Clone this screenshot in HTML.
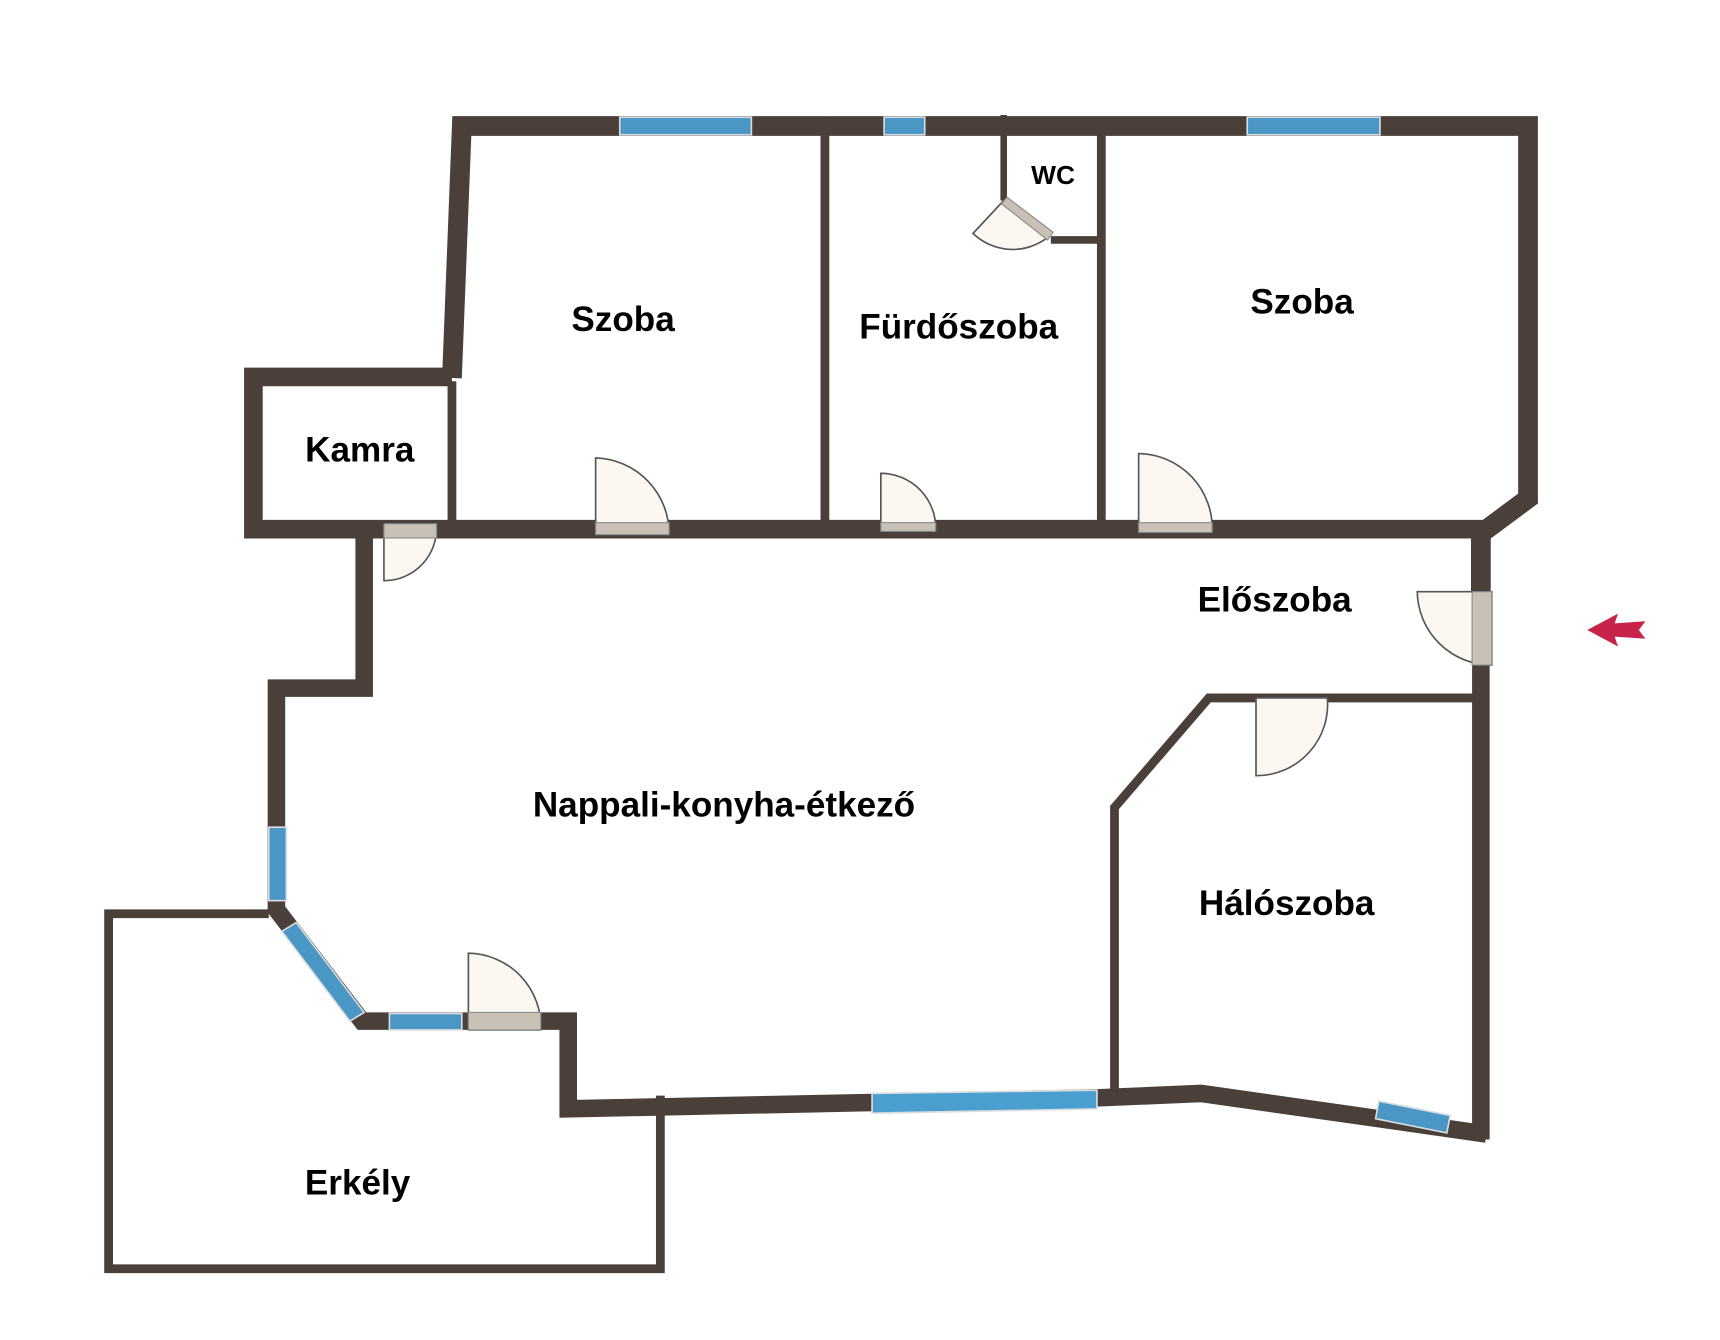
<!DOCTYPE html>
<html><head><meta charset="utf-8"><style>
html,body{margin:0;padding:0;background:#fff;}
svg{display:block;}
text{font-family:"Liberation Sans",Arial,sans-serif;font-weight:bold;fill:#000;}
</style></head><body>
<svg width="1720" height="1340" viewBox="0 0 1568 1223" preserveAspectRatio="none" xmlns="http://www.w3.org/2000/svg">
<g fill="none" stroke="#4a3f39" stroke-linejoin="miter" stroke-linecap="butt">
<polyline stroke-width="18" points="412,345 421,115 1393,115 1393,455 1350,487 1350,540"/>
<polyline stroke-width="17" points="412,344 231,344 231,483 1352,483"/>
<polyline stroke-width="16" points="1350,605 1350,1040"/>
<polyline stroke-width="16" points="332,483 332,628 252,628 252,830 330,932 510,932 518,932 518,1012 1000,1002 1095,998 1355,1035"/>
<line stroke-width="8" x1="412" y1="348" x2="412" y2="478"/>
<line stroke-width="8" x1="752" y1="108" x2="752" y2="478"/>
<line stroke-width="8" x1="1004" y1="120" x2="1004" y2="478"/>
<line stroke-width="6" x1="915" y1="105" x2="915" y2="183"/>
<line stroke-width="7" x1="958" y1="219" x2="1004" y2="219"/>
<polyline stroke-width="8" points="1350,637 1102,637 1016,737 1016,998"/>
<polyline stroke-width="8" points="245,834 99,834 99,1158 602,1158 602,1000"/>
</g>
<g fill="#4a96c4" stroke="#d8dde0" stroke-width="1.5">
<rect x="565" y="107" width="120" height="16"/>
<rect x="806" y="107" width="37" height="16"/>
<rect x="1137" y="107" width="121" height="16"/>
<rect x="245" y="755" width="16" height="67"/>
<polygon points="257,850 270,842 332,924 319,932"/>
<rect x="355" y="925" width="66" height="15"/>
<polygon points="795,998 1000,995 1000,1012 795,1016" fill="#4a9ed0"/>
<polygon points="1257,1005 1322,1018 1319,1034 1254,1021"/>
</g>
<g fill="#fcf7f0" stroke="#555" stroke-width="1.5">
<path d="M543,487 L543,418 A69,69 0 0 1 610,487 Z"/>
<path d="M803,484 L803,432 A50,50 0 0 1 853,484 Z"/>
<path d="M1038,485 L1038,414 A68,68 0 0 1 1105,485 Z"/>
<path d="M350,480 L398,480 A48,48 0 0 1 350,530 Z"/>
<path d="M1360,540 L1292,540 A68,68 0 0 0 1360,607 Z"/>
<path d="M1145,637 L1210,637 A65,65 0 0 1 1145,708 Z"/>
<path d="M427,940 L427,870 A67,67 0 0 1 493,940 Z"/>
<path d="M915,183 L956,216 A52,52 0 0 1 887,213 Z"/>
</g>
<g fill="#c9c0b6" stroke="#888" stroke-width="1">
<rect x="543" y="477" width="67" height="11"/>
<rect x="803" y="477" width="50" height="8"/>
<rect x="1038" y="477" width="67" height="9"/>
<rect x="350" y="478" width="48" height="13"/>
<rect x="1342" y="540" width="18" height="67"/>
<rect x="427" y="924" width="66" height="16"/>
<polygon points="918,180 960,212 955,219 913,186"/>
</g>
<polygon points="1447,575 1475,560 1472,569 1500,567 1494,575 1500,583 1472,581 1475,590" fill="#c8234a"/>
<g font-size="32" text-anchor="middle">
<text x="568" y="302">Szoba</text>
<text x="874" y="309">Fürdőszoba</text>
<text x="1187" y="286">Szoba</text>
<text x="328" y="421">Kamra</text>
<text x="1162" y="558">Előszoba</text>
<text x="660" y="745">Nappali-konyha-étkező</text>
<text x="1173" y="835">Hálószoba</text>
<text x="326" y="1090">Erkély</text>
<text x="960" y="168" font-size="24">WC</text>
</g>
</svg>
</body></html>
